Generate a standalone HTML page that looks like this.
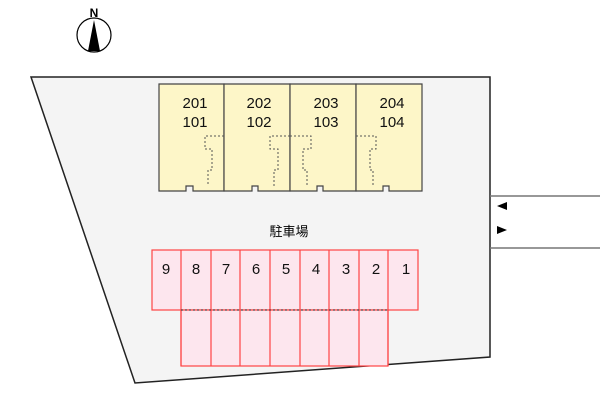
<!DOCTYPE html>
<html><head><meta charset="utf-8"><style>body{margin:0;background:#fff}svg{display:block}</style></head><body>
<svg width="600" height="400" viewBox="0 0 600 400" xmlns="http://www.w3.org/2000/svg" font-family="Liberation Sans, Noto Sans CJK JP, sans-serif">
<polygon points="31,77 490,77 490,357 135,383" fill="#f4f4f4" stroke="#222" stroke-width="1.5"/>
<rect x="491" y="197" width="109" height="51" fill="#fff"/>
<line x1="490" y1="196" x2="600" y2="196" stroke="#777" stroke-width="1.5"/>
<line x1="490" y1="248" x2="600" y2="248" stroke="#777" stroke-width="1.5"/>
<polygon points="497,206 507,202 507,210" fill="#000"/>
<polygon points="507,230 497,226 497,234" fill="#000"/>
<circle cx="94" cy="35" r="17" fill="#fff" stroke="#000" stroke-width="1.2"/>
<polygon points="94,20 88,51 94,51" fill="#000"/>
<polygon points="94,20 100,51 94,51" fill="#000"/>
<text x="94" y="17" font-size="12" font-weight="bold" text-anchor="middle">N</text>
<g stroke="#444" stroke-width="1.2" fill="#fdf6c8">
<polygon points="159,84 224,84 224,191 193,191 193,186 186,186 186,191 159,191"/>
<polygon points="224,84 290,84 290,191 258,191 258,186 252,186 252,191 224,191"/>
<polygon points="290,84 356,84 356,191 323,191 323,186 317,186 317,191 290,191"/>
<polygon points="356,84 422,84 422,191 389,191 389,186 383,186 383,191 356,191"/>
</g>
<g stroke="#555" stroke-width="1" stroke-dasharray="2,2" fill="none">
<polyline points="224,136 205,136 205,149 212,149 212,170 208,170 208,186"/>
<polyline points="290,136 270,136 270,149 278,149 278,170 274,170 274,186"/>
<polyline points="290,136 311,136 311,149 303,149 303,170 307,170 307,186"/>
<polyline points="356,136 376,136 376,149 370,149 370,170 373,170 373,186"/>
</g>
<g font-size="15" text-anchor="middle" fill="#111">
<text x="195" y="108">201</text><text x="195" y="127">101</text>
<text x="259" y="108">202</text><text x="259" y="127">102</text>
<text x="326" y="108">203</text><text x="326" y="127">103</text>
<text x="392" y="108">204</text><text x="392" y="127">104</text>
</g>
<text x="289" y="236" font-size="13" text-anchor="middle">駐車場</text>
<g stroke="#f44" stroke-width="1.2" fill="#fde6ee">
<rect x="152" y="250" width="266" height="60"/>
<rect x="181" y="310" width="207" height="56"/>
</g>
<g stroke="#f44" stroke-width="1.2">
<line x1="181" y1="250" x2="181" y2="366"/><line x1="211" y1="250" x2="211" y2="366"/>
<line x1="240" y1="250" x2="240" y2="366"/><line x1="270" y1="250" x2="270" y2="366"/>
<line x1="300" y1="250" x2="300" y2="366"/><line x1="329" y1="250" x2="329" y2="366"/>
<line x1="359" y1="250" x2="359" y2="366"/><line x1="388" y1="250" x2="388" y2="366"/>
</g>
<line x1="181" y1="310" x2="388" y2="310" stroke="#333" stroke-width="1" stroke-dasharray="2,2"/>
<g font-size="15" text-anchor="middle" fill="#111">
<text x="166" y="274">9</text><text x="196" y="274">8</text><text x="226" y="274">7</text>
<text x="256" y="274">6</text><text x="286" y="274">5</text><text x="316" y="274">4</text>
<text x="346" y="274">3</text><text x="376" y="274">2</text><text x="406" y="274">1</text>
</g>
</svg>
</body></html>
